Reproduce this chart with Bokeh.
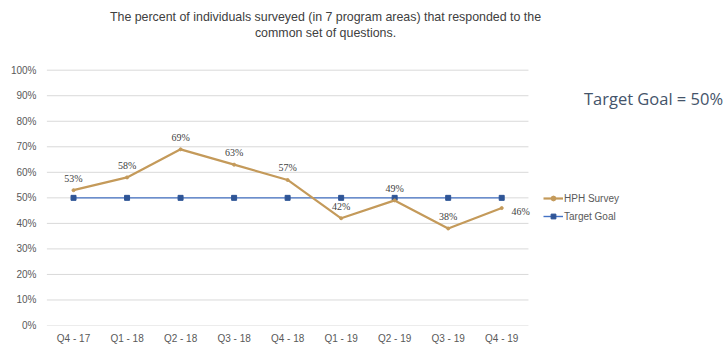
from bokeh.plotting import figure
from bokeh.models import (ColumnDataSource, Range1d, NumeralTickFormatter, FixedTicker,
                          Legend, LegendItem, Label, LabelSet)
from bokeh.embed import file_html
from bokeh.resources import INLINE

quarters = ["Q4 - 17", "Q1 - 18", "Q2 - 18", "Q3 - 18", "Q4 - 18",
            "Q1 - 19", "Q2 - 19", "Q3 - 19", "Q4 - 19"]
hph_survey = [0.53, 0.58, 0.69, 0.63, 0.57, 0.42, 0.49, 0.38, 0.46]
target_goal = [0.50, 0.50, 0.50, 0.50, 0.50, 0.50, 0.50, 0.50, 0.50]
hph_labels = ["53%", "58%", "69%", "63%", "57%", "42%", "49%", "38%", "46%"]
y_ticks = [0.0, 0.1, 0.2, 0.3, 0.4, 0.5, 0.6, 0.7, 0.8, 0.9, 1.0]

# label placement (styling)
label_dx = [0, 0, 0, 0, 0, 0, 0, 0, 19]
label_dy = [12, 12, 12, 12, 12, 12, 12, 12, -3]

FONT = "Liberation Sans"
GRAY = "#595959"

xs = list(range(len(quarters)))
n = len(quarters)

p = figure(width=726, height=346, x_range=Range1d(-0.505, 12.2), y_range=Range1d(0, 1.273),
           output_backend="svg", toolbar_location=None,
           min_border_left=46, min_border_right=0, min_border_top=0, min_border_bottom=20)
p.outline_line_color = None
p.background_fill_color = "white"
p.border_fill_color = "white"
p.xgrid.grid_line_color = None
p.ygrid.grid_line_color = None

p.xaxis.ticker = FixedTicker(ticks=xs)
p.xaxis.major_label_overrides = {i: q for i, q in zip(xs, quarters)}
p.yaxis.ticker = FixedTicker(ticks=y_ticks)
p.yaxis.formatter = NumeralTickFormatter(format="0%")

for ax in (p.xaxis, p.yaxis):
    ax.axis_line_color = None
    ax.major_tick_line_color = None
    ax.minor_tick_line_color = None
    ax.major_tick_out = 0
    ax.major_tick_in = 0
    ax.major_label_text_font = FONT
    ax.major_label_text_font_size = "10px"
    ax.major_label_text_color = GRAY
p.yaxis.major_label_standoff = 10
p.xaxis.major_label_standoff = 7

# horizontal gridlines over the plot area only
p.segment(x0=[-0.5] * len(y_ticks), x1=[n - 0.5] * len(y_ticks), y0=y_ticks, y1=y_ticks,
          line_color="#d9d9d9", line_width=1)

src = ColumnDataSource(dict(x=xs, hph=hph_survey, goal=target_goal,
                            lab=hph_labels, dx=label_dx, dy=label_dy))

tgt_line = p.line("x", "goal", source=src, line_color="#4472C4", line_width=1.4)
tgt_pts = p.scatter("x", "goal", source=src, marker="square", size=5,
                    fill_color="#2F5597", line_color="#2F5597")
hph_line = p.line("x", "hph", source=src, line_color="#C49A5A", line_width=2.2)
hph_pts = p.scatter("x", "hph", source=src, marker="circle", size=3,
                    fill_color="#C49A5A", line_color="#C49A5A")

labels = LabelSet(x="x", y="hph", text="lab", source=src, x_offset="dx", y_offset="dy",
                  text_align="center", text_baseline="middle",
                  text_font=FONT, text_font_size="10px", text_color="#404040")
p.add_layout(labels)

legend = Legend(items=[LegendItem(label="HPH Survey", renderers=[hph_line, hph_pts]),
                       LegendItem(label="Target Goal", renderers=[tgt_line, tgt_pts])],
                location=(497, 103), background_fill_alpha=0, border_line_color=None,
                label_text_font=FONT, label_text_font_size="10px", label_text_color=GRAY,
                glyph_width=20, glyph_height=12, spacing=6, padding=2, margin=0,
                label_standoff=1)
p.add_layout(legend, "center")

p.add_layout(Label(x=279, y=309, x_units="screen", y_units="screen",
                   text="The percent of individuals surveyed (in 7 program areas) that responded to the",
                   text_align="center", text_baseline="middle", text_font=FONT,
                   text_font_size="12.4px", text_color="#404040"))
p.add_layout(Label(x=279, y=293, x_units="screen", y_units="screen",
                   text="common set of questions.",
                   text_align="center", text_baseline="middle", text_font=FONT,
                   text_font_size="12.4px", text_color="#404040"))
p.add_layout(Label(x=607, y=227, x_units="screen", y_units="screen",
                   text="Target Goal = 50%", text_align="center", text_baseline="middle",
                   text_font="Open Sans", text_font_size="16.5px", text_color="#44546A"))

open("out.html", "w").write(file_html(p, INLINE))
